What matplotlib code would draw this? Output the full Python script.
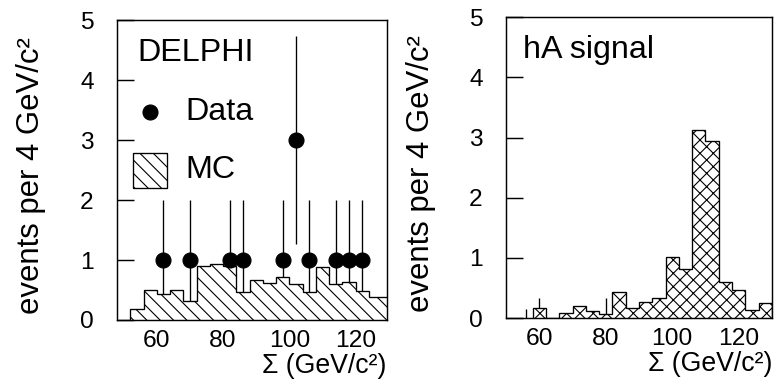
import numpy as np
import matplotlib.pyplot as plt
from matplotlib.patches import Rectangle

plt.rcParams['font.family'] = ['Liberation Sans', 'DejaVu Sans']
plt.rcParams['hatch.linewidth'] = 1.0

# left panel: MC background histogram (4 GeV bins) and data
mc_edges = np.arange(52, 133, 4)
mc_vals = [0.19, 0.50, 0.43, 0.50, 0.31, 0.90, 0.94, 0.90, 0.47, 0.66,
           0.62, 0.72, 0.60, 0.46, 0.88, 0.60, 0.64, 0.49, 0.38, 0.38]
data_x = [62, 70, 82, 86, 98, 102, 106, 114, 118, 122]
data_y = [1, 1, 1, 1, 1, 3, 1, 1, 1, 1]
data_err = [1, 1, 1, 1, 1, 1.73, 1, 1, 1, 1]

# right panel: hA signal histogram
sig_edges = np.arange(58, 131, 4)
sig_vals = [0.17, 0.0, 0.09, 0.20, 0.12, 0.07, 0.43, 0.17, 0.27, 0.33,
            1.02, 0.81, 3.13, 2.94, 0.60, 0.46, 0.14, 0.25]
sig_err_x = [56, 60, 80]
sig_err_lo = [0.0, 0.17, 0.07]
sig_err_hi = [0.15, 0.33, 0.33]

yticks = [0, 1, 2, 3, 4, 5]
xticks = [60, 80, 100, 120]
ylab = "events per 4 GeV/c\u00b2"
xlab = "\u03a3 (GeV/c\u00b2)"

fig = plt.figure(figsize=(775/80, 390/80), dpi=80)
axL = fig.add_axes([0.151, 0.1795, 0.348, 0.769])
axR = fig.add_axes([0.653, 0.1846, 0.343, 0.771])

def style(ax, xlim):
    ax.set_xlim(*xlim)
    ax.set_ylim(0, 5)
    ax.set_yticks(yticks)
    ax.set_xticks(xticks)
    ax.tick_params(axis='y', direction='in', length=15, width=1.3,
                   labelsize=22, pad=21)
    ax.tick_params(axis='x', length=0, labelsize=22, pad=9)
    for s in ax.spines.values():
        s.set_linewidth(1.3)
    ax.set_ylabel(ylab, fontsize=28)
    ax.yaxis.set_label_coords(-0.265, 0.48)
    ax.set_xlabel(xlab, fontsize=24, ha='right')
    ax.xaxis.set_label_coords(1.0, -0.11)

# left
axL.vlines(data_x, np.array(data_y) - np.array(data_err),
           np.array(data_y) + np.array(data_err), color='black', lw=1.2, zorder=1)
axL.stairs(mc_vals, mc_edges, fill=True, facecolor='white', edgecolor='black',
           hatch='\\\\', lw=1.2, zorder=2)
axL.plot(data_x, data_y, 'o', color='black', ms=13.5, zorder=3)
style(axL, (48, 129.4))

axL.text(0.074, 0.89, "DELPHI", transform=axL.transAxes, fontsize=29, va='center')
axL.plot([0.122], [0.693], 'o', color='black', ms=13.5, transform=axL.transAxes)
axL.text(0.252, 0.693, "Data", transform=axL.transAxes, fontsize=29, va='center')
axL.add_patch(Rectangle((0.059, 0.44), 0.126, 0.117, transform=axL.transAxes,
                        facecolor='white', edgecolor='black', hatch='\\\\', lw=1.2))
axL.text(0.252, 0.5, "MC", transform=axL.transAxes, fontsize=29, va='center')

# right
axR.stairs(sig_vals, sig_edges, fill=True, facecolor='white', edgecolor='black',
           hatch='xx', lw=1.2, zorder=2)
axR.vlines(sig_err_x, sig_err_lo, sig_err_hi, color='black', lw=1.2, zorder=3)
style(axR, (50, 130))
axR.text(0.064, 0.89, "hA signal", transform=axR.transAxes, fontsize=29, va='center')

fig.savefig("out.png", dpi=80)
